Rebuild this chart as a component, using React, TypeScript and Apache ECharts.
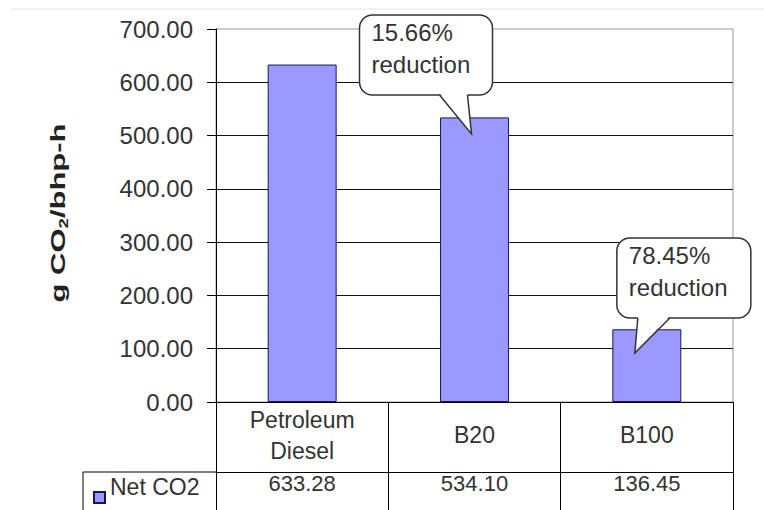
import React, { useEffect, useRef } from "react";
import * as echarts from "echarts";

const categories = ["Petroleum\nDiesel", "B20", "B100"];
const netCO2 = [633.28, 534.1, 136.45];
const seriesName = "Net CO2";
const yTicks = { min: 0, max: 700, interval: 100 };
const callouts = [
  { cat: 1, value: 503, dx: -3, text: "15.66%\nreduction", box: [-112, -119, 133, 80], base: [-32, -4] },
  { cat: 2, value: 92, dx: -12, text: "78.45%\nreduction", box: [-18, -115, 134, 80], base: [3, 35] },
];

const FONT = "'Liberation Sans', Arial, sans-serif";
const TXT = "#333";

export default function App() {
  const ref = useRef<HTMLDivElement>(null);
  useEffect(() => {
    const chart = echarts.init(ref.current!, null, { renderer: "svg" });
    const option: any = {
      animation: false,
      backgroundColor: "#fff",
      textStyle: { fontFamily: FONT },
      grid: {
        left: 216,
        right: 31,
        top: 29,
        bottom: 108,
        show: true,
        borderColor: "#999",
        borderWidth: 1,
        containLabel: false,
      },
      legend: {
        left: 88,
        top: 470,
        icon: "rect",
        itemWidth: 11,
        itemHeight: 11,
        itemGap: 6,
        data: [seriesName],
        formatter: "{t|{name}}",
        textStyle: {
          fontSize: 23,
          color: TXT,
          fontFamily: FONT,
          rich: { t: { fontSize: 23, color: TXT, fontFamily: FONT, padding: [0, 0, 22, 0] } },
        },
      },
      xAxis: [
        {
          type: "category",
          data: categories,
          position: "bottom",
          axisLine: { show: true, lineStyle: { color: "#000", width: 1 } },
          axisTick: { show: true, length: 70, interval: 0, lineStyle: { color: "#000" } },
          axisLabel: {
            interval: 0,
            margin: 33,
            verticalAlign: "middle",
            fontSize: 23,
            lineHeight: 31,
            color: TXT,
            fontFamily: FONT,
          },
          splitLine: { show: false },
        },
        {
          type: "category",
          data: categories,
          position: "bottom",
          offset: 70,
          axisLine: { show: true, lineStyle: { color: "#000", width: 1 } },
          axisTick: { show: true, length: 45, interval: 0, lineStyle: { color: "#000" } },
          axisLabel: {
            interval: 0,
            margin: 11,
            verticalAlign: "middle",
            fontSize: 22,
            color: TXT,
            fontFamily: FONT,
            formatter: (_v: string, i: number) => netCO2[i].toFixed(2),
          },
          splitLine: { show: false },
        },
      ],
      yAxis: {
        type: "value",
        min: yTicks.min,
        max: yTicks.max,
        interval: yTicks.interval,
        axisLine: { show: true, lineStyle: { color: "#000", width: 1 } },
        axisTick: { show: true, length: 9, inside: false, lineStyle: { color: "#000" } },
        axisLabel: {
          margin: 23,
          fontSize: 24,
          color: TXT,
          fontFamily: FONT,
          formatter: (v: number) => v.toFixed(2),
        },
        splitLine: { show: true, showMaxLine: false, lineStyle: { color: "#111", width: 1 } },
      },
      series: [
        {
          name: seriesName,
          type: "bar",
          data: netCO2,
          barWidth: "40%",
          itemStyle: { color: "#9999FF", borderColor: "#14145e", borderWidth: 1 },
          z: 2,
        },
      ],
    };
    chart.setOption(option);

    const graphics: any[] = [
      { type: "line", z: 100, shape: { x1: 10, y1: 9, x2: 764, y2: 9 }, style: { stroke: "#e4e4e4", lineWidth: 1 } },
      { type: "line", z: 100, shape: { x1: 83, y1: 472, x2: 216, y2: 472 }, style: { stroke: "#000", lineWidth: 1 } },
      { type: "line", z: 100, shape: { x1: 83, y1: 472, x2: 83, y2: 512 }, style: { stroke: "#000", lineWidth: 1 } },
      {
        type: "text",
        z: 100,
        x: 58,
        y: 213,
        rotation: Math.PI / 2,
        scaleX: 1.55,
        style: {
          text: "{a|g CO}{b|2}{a|/bhp-h}",
          align: "center",
          verticalAlign: "middle",
          rich: {
            a: { fontSize: 20, fontWeight: "bold", fill: "#222", fontFamily: FONT, lineHeight: 24 },
            b: { fontSize: 12, fontWeight: "bold", fill: "#222", fontFamily: FONT, lineHeight: 24, verticalAlign: "bottom", padding: [6, 0, 0, 0] },
          },
        },
      },
    ];

    callouts.forEach((c) => {
      const p = chart.convertToPixel({ gridIndex: 0 }, [c.cat, c.value]) as number[];
      const tx = p[0] + c.dx;
      const ty = p[1];
      const [bx, by, bw, bh] = c.box;
      const left = tx + bx;
      const top = ty + by;
      const bottom = top + bh;
      const b1 = tx + c.base[0];
      const b2 = tx + c.base[1];
      graphics.push(
        {
          type: "rect",
          z: 100,
          shape: { x: left, y: top, width: bw, height: bh, r: 13 },
          style: { fill: "#fff", stroke: "#333", lineWidth: 1.5 },
        },
        {
          type: "polygon",
          z: 101,
          shape: { points: [[b1, bottom - 2], [tx, ty], [b2, bottom - 2]] },
          style: { fill: "#fff", stroke: null },
        },
        {
          type: "polyline",
          z: 102,
          shape: { points: [[b1, bottom], [tx, ty], [b2, bottom]] },
          style: { stroke: "#333", lineWidth: 1.5, fill: null },
        },
        {
          type: "text",
          z: 103,
          x: left + 12,
          y: top + 2,
          style: {
            text: c.text,
            fontSize: 24,
            lineHeight: 32,
            fill: TXT,
            fontFamily: FONT,
            align: "left",
            verticalAlign: "top",
          },
        }
      );
    });

    chart.setOption({ graphic: graphics });
    return () => chart.dispose();
  }, []);
  return (
    <div
      ref={ref}
      style={{ position: "fixed", left: 0, top: 0, width: 764, height: 510 }}
    />
  );
}
